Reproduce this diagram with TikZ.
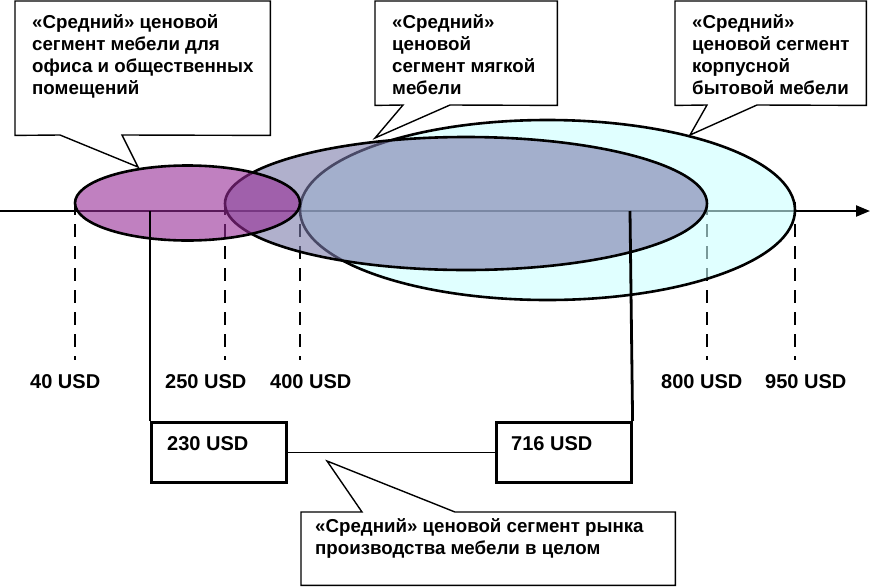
\documentclass[tikz,border=0pt]{standalone}
\usepackage{fontspec}
\setmainfont{Liberation Sans}
\usetikzlibrary{arrows.meta,shapes.geometric}
\definecolor{cyanf}{RGB}{203,255,255}
\definecolor{softf}{RGB}{123,123,170}
\definecolor{purf}{RGB}{150,43,150}
\begin{document}
\begin{tikzpicture}[x=1pt,y=-1pt,
  txt/.style={font=\bfseries\fontsize{20}{22}\selectfont, inner sep=0pt, anchor=base west, align=left},
  ctxt/.style={font=\bfseries\fontsize{18.7}{22}\selectfont, inner sep=0pt, anchor=base west, align=left},
  ell/.style={ellipse, draw=black, line width=2.6pt, inner sep=0pt, fill opacity=0.6},
  vdash/.style={line width=2.8pt, dash pattern=on 13pt off 9pt},
  vline/.style={line width=2.8pt},
  pbox/.style={draw, line width=2.6pt, inner sep=0pt, minimum width=135pt, minimum height=60pt, anchor=north west},
  cbox/.style={inner sep=0pt, anchor=north west},
  callout/.style={draw, fill=white, line width=1.4pt, line join=miter}
]
\useasboundingbox (0,0) rectangle (871,587);
% axis
\coordinate (a0) at (0,211);
\coordinate (a1) at (870,211);
\draw[line width=2.2pt, -{Stealth[length=14pt,width=11pt,inset=0pt]}] (a0) -- (a1);
% dashed guides
\foreach \n/\x in {d40/75, d250/225, d400/300, d800/707, d950/795}{
  \coordinate (\n t) at (\x,202);
  \coordinate (\n b) at (\x,360);
  \draw[vdash] (\n t) -- (\n b);
}
% ellipses
\node[ell, fill=cyanf, minimum width=495pt, minimum height=180pt] (corp) at (547.5,210) {};
\node[ell, fill=softf, minimum width=482pt, minimum height=133pt] (soft) at (466,203.5) {};
\node[ell, fill=purf, minimum width=225pt, minimum height=75pt] (office) at (187.5,203) {};
% price labels
\node[txt] (l40) at (30,388) {40 USD};
\node[txt] (l250) at (165,388) {250 USD};
\node[txt] (l400) at (270,388) {400 USD};
\node[txt] (l800) at (661,388) {800 USD};
\node[txt] (l950) at (765,388) {950 USD};
% boxes
\node[pbox] (b230) at (150,421) {};
\node[pbox] (b716) at (495,421) {};
\node[txt] (t230) at (167,450) {230 USD};
\node[txt] (t716) at (511,450) {716 USD};
\coordinate (p230) at (150,211);
\coordinate (p716) at (630,211);
\draw[vline] (p230) -- (b230.north west);
\draw[vline] (p716) -- (b716.north east);
\draw[line width=1pt] (b230.east) -- (b716.west);
% callout 1
\node[cbox, minimum width=255pt, minimum height=134pt] (c1) at (15,1) {};
\coordinate (c1a) at (60,135);
\coordinate (c1b) at (122,135);
\coordinate (c1t) at (138,167);
\draw[callout] (c1.south west) -- (c1a) -- (c1t) -- (c1b) -- (c1.south east) -- (c1.north east) -- (c1.north west) -- cycle;
\node[ctxt] (x1) at (32,94) {«Средний» ценовой\\сегмент мебели для\\офиса и общественных\\помещений};
% callout 2
\node[cbox, minimum width=182pt, minimum height=104pt] (c2) at (375,1) {};
\coordinate (c2a) at (403,105);
\coordinate (c2b) at (450,105);
\coordinate (c2t) at (375,138);
\draw[callout] (c2.south west) -- (c2a) -- (c2t) -- (c2b) -- (c2.south east) -- (c2.north east) -- (c2.north west) -- cycle;
\node[ctxt] (x2) at (392,94) {«Средний»\\ценовой\\сегмент мягкой\\мебели};
% callout 3
\node[cbox, minimum width=191pt, minimum height=104pt] (c3) at (675,1) {};
\coordinate (c3a) at (707,105);
\coordinate (c3b) at (757,105);
\coordinate (c3t) at (690,135);
\draw[callout] (c3.south west) -- (c3a) -- (c3t) -- (c3b) -- (c3.south east) -- (c3.north east) -- (c3.north west) -- cycle;
\node[ctxt] (x3) at (692,94) {«Средний»\\ценовой сегмент\\корпусной\\бытовой мебели};
% callout 4
\node[cbox, minimum width=374pt, minimum height=73pt] (c4) at (301,512) {};
\coordinate (c4a) at (362,512);
\coordinate (c4b) at (455,512);
\coordinate (c4t) at (327,461);
\draw[callout] (c4.north west) -- (c4a) -- (c4t) -- (c4b) -- (c4.north east) -- (c4.south east) -- (c4.south west) -- cycle;
\node[ctxt] (x4) at (315,554) {«Средний» ценовой сегмент рынка\\производства мебели в целом};
\end{tikzpicture}
\end{document}
